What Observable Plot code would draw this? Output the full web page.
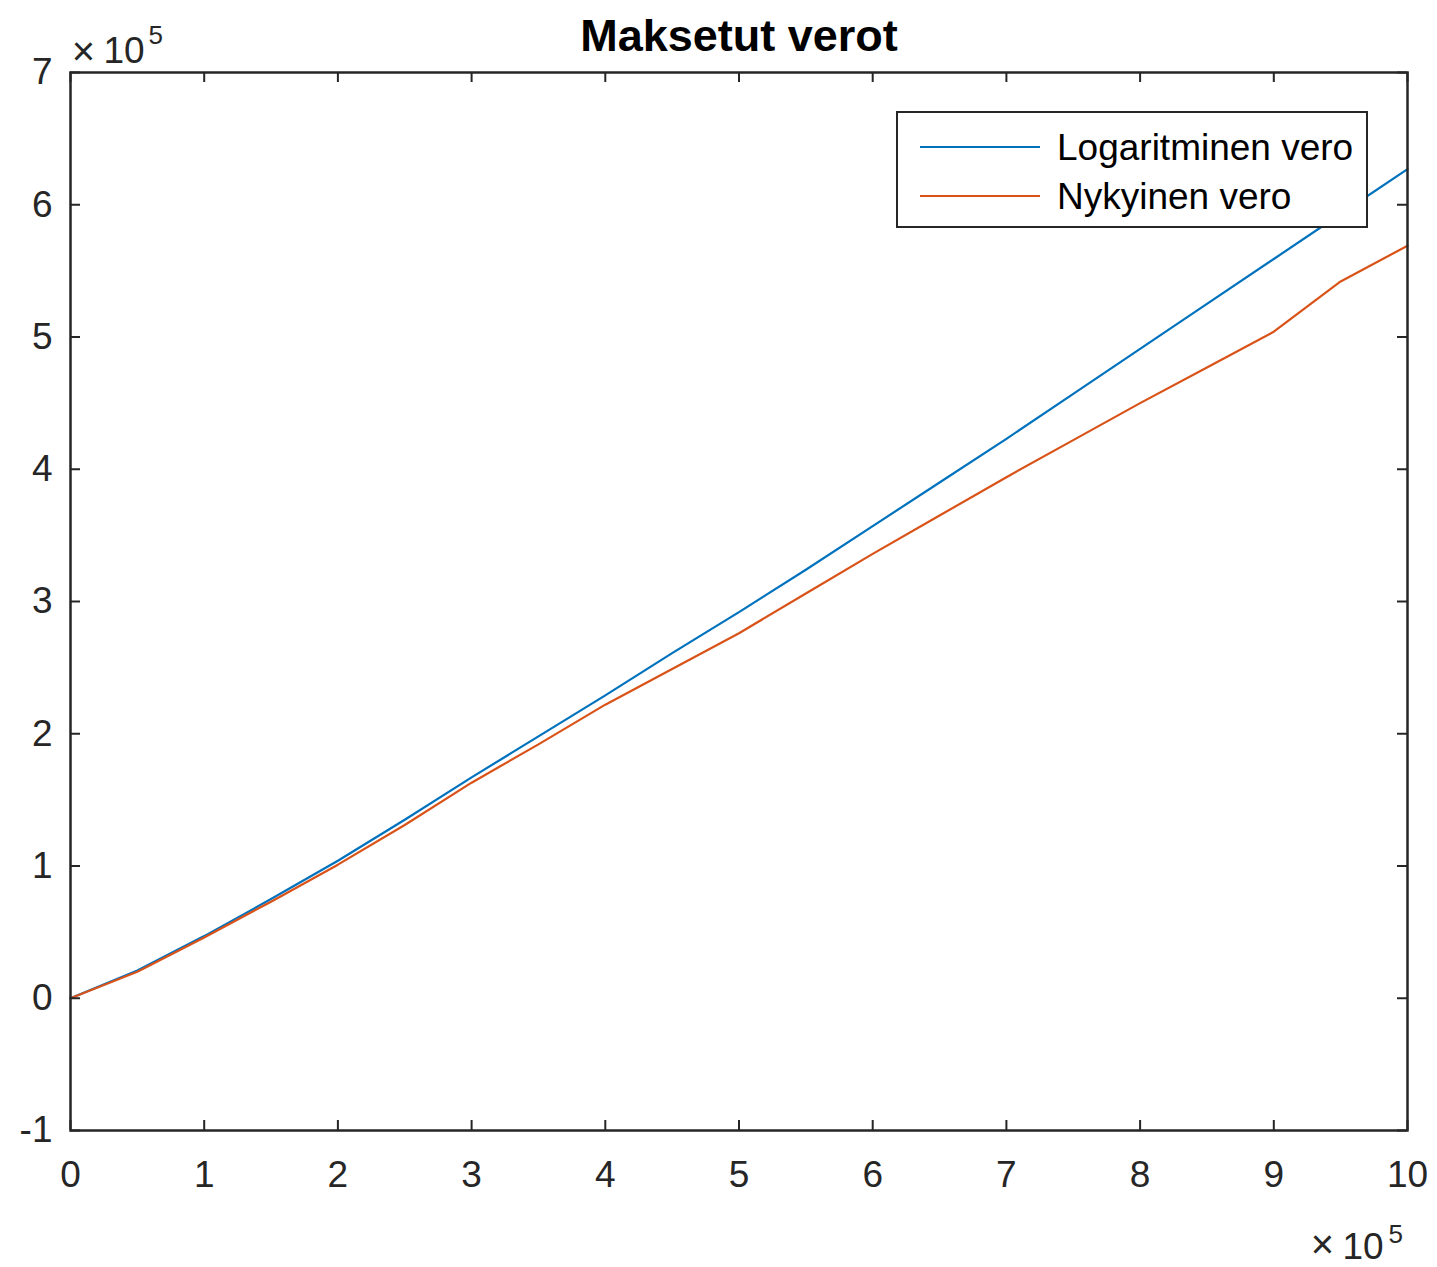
<!DOCTYPE html>
<html>
<head>
<meta charset="utf-8">
<script src="https://cdn.jsdelivr.net/npm/d3@7"></script>
<script src="https://cdn.jsdelivr.net/npm/@observablehq/plot@0.6"></script>
<style>
  html, body { margin: 0; padding: 0; background: #fff; }
  #wrap { position: relative; width: 1437px; height: 1267px; font-family: "Liberation Sans", Arial, sans-serif; }
  #legend { position: absolute; left: 896px; top: 111px; width: 468px; height: 113px; border: 2.5px solid #262626; background: #fff; }
</style>
</head>
<body>
<div id="wrap"></div>
<script>
// Income (x) and taxes paid (y), in euros
const income = [0, 50000, 100000, 150000, 200000, 250000, 300000, 350000, 400000, 450000, 500000,
                550000, 600000, 650000, 700000, 750000, 800000, 850000, 900000, 950000, 1000000];
const logTax = [0, 21000, 47000, 75000, 104000, 135000, 167000, 198000, 229000, 261000, 292000,
                324000, 357000, 390000, 423000, 457000, 491000, 525000, 559000, 593000, 627000];
const currentTax = [0, 20000, 46000, 73000, 101000, 131000, 163000, 192000, 222000, 249000, 276000,
                    306000, 336000, 365000, 394000, 422000, 450000, 477000, 504000, 542000, 569000];
const seriesNames = ["Logaritminen vero", "Nykyinen vero"];
const seriesColors = ["#0072BD", "#D95319"];
const xTicks = [0, 100000, 200000, 300000, 400000, 500000, 600000, 700000, 800000, 900000, 1000000];
const yTicks = [-100000, 0, 100000, 200000, 300000, 400000, 500000, 600000, 700000];
const titleText = "Maksetut verot";

const rows = [];
income.forEach((x, i) => {
  rows.push({x, y: logTax[i], s: seriesNames[0]});
  rows.push({x, y: currentTax[i], s: seriesNames[1]});
});

const W = 1437, H = 1267, mL = 70, mR = 30, mT = 72, mB = 137;
const fw = W - mL - mR, fh = H - mT - mB;
const ink = "#262626";
const fs = 37;

const plot = Plot.plot({
  width: W, height: H,
  marginLeft: mL, marginRight: mR, marginTop: mT, marginBottom: mB,
  style: {fontFamily: "Liberation Sans, Arial, sans-serif", background: "#fff", color: ink},
  x: {domain: [0, 1000000]},
  y: {domain: [-100000, 700000]},
  color: {domain: seriesNames, range: seriesColors},
  marks: [
    Plot.line(rows, {x: "x", y: "y", z: "s", stroke: "s", strokeWidth: 2.2}),
    // inward ticks
    Plot.tickY(yTicks, {y: d => d, insetRight: fw - 10, stroke: ink, strokeWidth: 2}),
    Plot.tickY(yTicks, {y: d => d, insetLeft: fw - 10, stroke: ink, strokeWidth: 2}),
    Plot.tickX(xTicks, {x: d => d, insetTop: fh - 10, stroke: ink, strokeWidth: 2}),
    Plot.tickX(xTicks, {x: d => d, insetBottom: fh - 10, stroke: ink, strokeWidth: 2}),
    Plot.frame({stroke: ink, strokeWidth: 2.5}),
    Plot.axisY({anchor: "left", ticks: yTicks, tickSize: 0, tickPadding: 18,
                tickFormat: d => String(d / 100000), fontSize: fs, fill: ink, label: null}),
    Plot.axisX({anchor: "bottom", ticks: xTicks, tickSize: 0, tickPadding: 30,
                tickFormat: d => String(d / 100000), fontSize: fs, fill: ink, label: null}),
    // title
    Plot.text([titleText], {frameAnchor: "top", dy: -22, lineAnchor: "bottom",
                            fontWeight: "bold", fontSize: 45, fill: "#000"}),
    // exponent labels
    Plot.text(["×"], {frameAnchor: "top-left", dx: 13, dy: -8, lineAnchor: "bottom", textAnchor: "middle", fontSize: 40, fill: ink}),
    Plot.text(["10"], {frameAnchor: "top-left", dx: 33, dy: -10, lineAnchor: "bottom", textAnchor: "start", fontSize: fs, fill: ink}),
    Plot.text(["5"], {frameAnchor: "top-left", dx: 78, dy: -29, lineAnchor: "bottom", textAnchor: "start", fontSize: 26, fill: ink}),
    Plot.text(["×"], {frameAnchor: "bottom-right", dx: -85, dy: 127, lineAnchor: "bottom", textAnchor: "middle", fontSize: 40, fill: ink}),
    Plot.text(["10"], {frameAnchor: "bottom-right", dx: -65, dy: 128, lineAnchor: "bottom", textAnchor: "start", fontSize: fs, fill: ink}),
    Plot.text(["5"], {frameAnchor: "bottom-right", dx: -19, dy: 112, lineAnchor: "bottom", textAnchor: "start", fontSize: 26, fill: ink})
  ]
});

const wrap = document.getElementById("wrap");
wrap.appendChild(plot);

// legend
const leg = document.createElement("div");
leg.id = "legend";
const ns = "http://www.w3.org/2000/svg";
const lsvg = document.createElementNS(ns, "svg");
lsvg.setAttribute("width", 468);
lsvg.setAttribute("height", 113);
lsvg.style.display = "block";
seriesNames.forEach((name, i) => {
  const cy = 34 + i * 49;
  const ln = document.createElementNS(ns, "line");
  ln.setAttribute("x1", 22); ln.setAttribute("x2", 142);
  ln.setAttribute("y1", cy); ln.setAttribute("y2", cy);
  ln.setAttribute("stroke", seriesColors[i]);
  ln.setAttribute("stroke-width", 2.2);
  lsvg.appendChild(ln);
  const t = document.createElementNS(ns, "text");
  t.setAttribute("x", 159);
  t.setAttribute("y", cy + 13);
  t.setAttribute("font-size", fs);
  t.setAttribute("font-family", "Liberation Sans, Arial, sans-serif");
  t.setAttribute("fill", "#000");
  t.textContent = name;
  lsvg.appendChild(t);
});
leg.appendChild(lsvg);
wrap.appendChild(leg);
</script>
</body>
</html>
